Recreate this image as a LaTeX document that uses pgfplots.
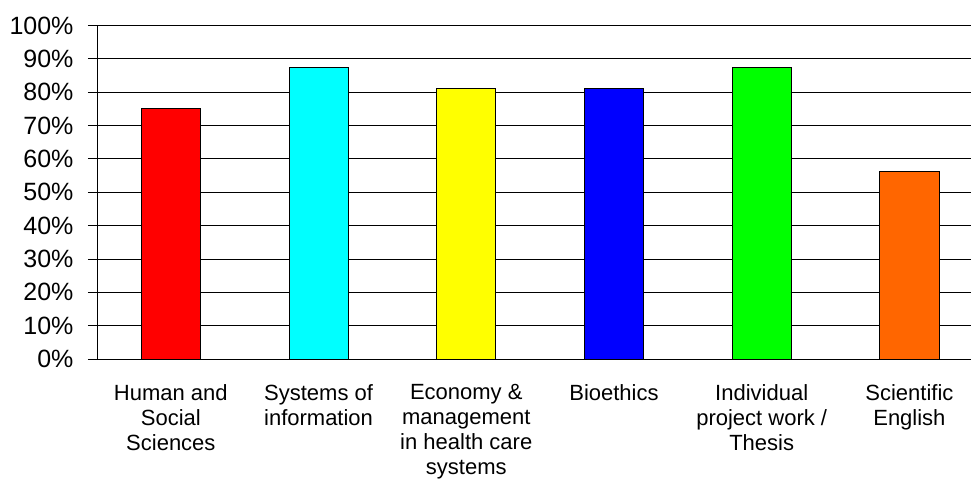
\documentclass[border=0pt]{standalone}
\usepackage{pgfplots}
\pgfplotsset{compat=1.18}
\usepackage{fontspec}
\setmainfont{Liberation Sans}
\begin{document}
\begin{tikzpicture}
\begin{axis}[
  at={(0,0)}, anchor=south west,
  scale only axis=true,
  width=874bp, height=333.5bp,
  xmin=-0.5, xmax=5.417,
  ymin=0, ymax=100,
  axis x line*=bottom, axis y line*=left,
  axis line style={black, line width=0.9pt},
  ytick={0,10,...,100},
  yticklabel={\pgfmathprintnumber{\tick}\%},
  /pgf/number format/assume math mode=true,
  yticklabel style={font=\fontsize{25bp}{27bp}\selectfont, xshift=-11bp},
  ymajorgrids=true,
  grid style={black, line width=0.9pt},
  tick align=outside,
  major tick length=9bp,
  tick style={black, line width=0.9pt},
  xtick={0,1,2,3,4,5},
  xticklabels={{Human and\\Social\\Sciences},{Systems of\\information},{Economy \&\\management\\in health care\\systems},{Bioethics},{Individual\\project work /\\Thesis},{Scientific\\English}},
  xticklabel style={font=\fontsize{22bp}{25bp}\selectfont, align=center, yshift=-13bp},
  x tick style={draw=none},
  minor xtick={-0.5,0.5,1.5,2.5,3.5,4.5},
  minor tick length=6bp,
  minor x tick style={black, line width=0.9pt},
  ybar, bar width=0.4, bar shift=0pt,
  clip=false,
]
\addplot[fill={rgb,255:red,255;green,0;blue,0}, draw=black, line width=0.8pt] coordinates {(0,75)};
\addplot[fill={rgb,255:red,0;green,255;blue,255}, draw=black, line width=0.8pt] coordinates {(1,87.5)};
\addplot[fill={rgb,255:red,255;green,255;blue,0}, draw=black, line width=0.8pt] coordinates {(2,81.25)};
\addplot[fill={rgb,255:red,0;green,0;blue,255}, draw=black, line width=0.8pt] coordinates {(3,81.25)};
\addplot[fill={rgb,255:red,0;green,255;blue,0}, draw=black, line width=0.8pt] coordinates {(4,87.5)};
\addplot[fill={rgb,255:red,255;green,102;blue,0}, draw=black, line width=0.8pt] coordinates {(5,56.25)};
\end{axis}
\pgfresetboundingbox
\path (-97bp,-120bp) rectangle (874bp,359bp);
\end{tikzpicture}
\end{document}
